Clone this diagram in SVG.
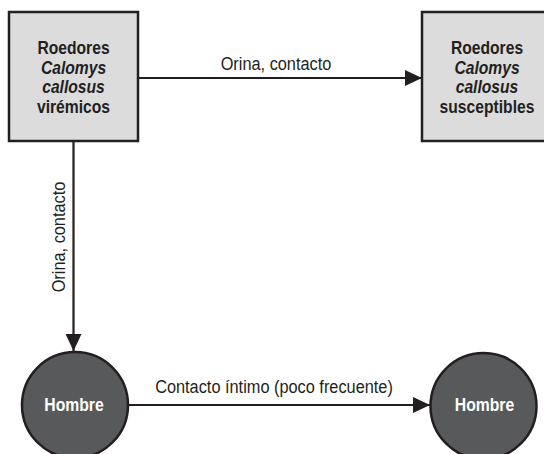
<svg xmlns="http://www.w3.org/2000/svg" width="544" height="454" viewBox="0 0 544 454">
  <style>
    .box { fill: #dcdcdd; stroke: #231f20; stroke-width: 2.5; }
    .hum { fill: #58595b; stroke: #231f20; stroke-width: 2.5; }
    .edge { fill: none; stroke: #231f20; stroke-width: 2.2; }
    text { font-family: "Liberation Sans", Arial, sans-serif; text-anchor: middle; }
    .nt { font-size: 18px; font-weight: bold; fill: #231f20; }
    .it { font-style: italic; }
    .ht { font-size: 17.5px; font-weight: bold; fill: #ffffff; }
    .lbl { font-size: 19px; fill: #231f20; }
  </style>
  <defs>
    <marker id="ah" markerWidth="17" markerHeight="16" refX="17" refY="8" orient="auto" markerUnits="userSpaceOnUse">
      <path d="M0,0 L17,8 L0,16 z" fill="#231f20"/>
    </marker>
  </defs>

  <!-- connectors -->
  <g id="connectors">
    <path class="edge" d="M139,78 H422" marker-end="url(#ah)"/>
    <text class="lbl" transform="translate(276,70) scale(0.86,1)">Orina, contacto</text>
    <path class="edge" d="M73.5,142 V351" marker-end="url(#ah)"/>
    <text class="lbl" transform="translate(65,237) rotate(-90) scale(0.86,1)">Orina, contacto</text>
    <path class="edge" d="M128,405 H430" marker-end="url(#ah)"/>
    <text class="lbl" transform="translate(274,393) scale(0.86,1)">Contacto íntimo (poco frecuente)</text>
  </g>

  <!-- viremic rodents -->
  <g id="roedores-viremicos">
    <rect class="box" x="9" y="12" width="129" height="129"/>
    <text class="nt" transform="translate(73.5,54) scale(0.87,1)">Roedores</text>
    <text class="nt it" transform="translate(73.5,73.5) scale(0.87,1)">Calomys</text>
    <text class="nt it" transform="translate(73.5,93) scale(0.87,1)">callosus</text>
    <text class="nt" transform="translate(73.5,112.5) scale(0.87,1)">virémicos</text>
  </g>

  <!-- susceptible rodents -->
  <g id="roedores-susceptibles">
    <rect class="box" x="422" y="12" width="130" height="129"/>
    <text class="nt" transform="translate(487,54) scale(0.87,1)">Roedores</text>
    <text class="nt it" transform="translate(487,73.5) scale(0.87,1)">Calomys</text>
    <text class="nt it" transform="translate(487,93) scale(0.87,1)">callosus</text>
    <text class="nt" transform="translate(487,112.5) scale(0.87,1)">susceptibles</text>
  </g>

  <!-- humans -->
  <g id="hombre-1">
    <circle class="hum" cx="75" cy="405" r="53"/>
    <text class="ht" transform="translate(74,411) scale(0.9,1)">Hombre</text>
  </g>
  <g id="hombre-2">
    <circle class="hum" cx="483.5" cy="406" r="53"/>
    <text class="ht" transform="translate(484.5,411) scale(0.9,1)">Hombre</text>
  </g>
</svg>
